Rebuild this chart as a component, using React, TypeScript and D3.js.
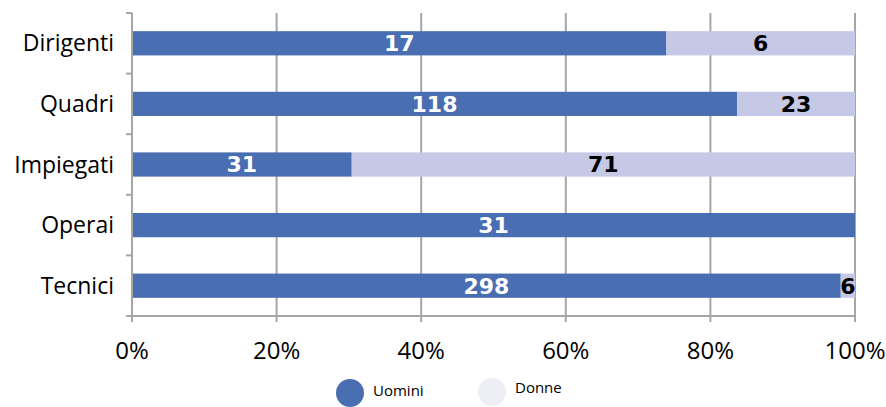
import { useEffect, useRef } from "react";
import * as d3 from "d3";

const categories = ["Dirigenti", "Quadri", "Impiegati", "Operai", "Tecnici"];
const uomini = [17, 118, 31, 31, 298];
const donne = [6, 23, 71, 0, 6];
const seriesNames = ["Uomini", "Donne"];
const tickValues = [0, 0.2, 0.4, 0.6, 0.8, 1];

const colUomini = "#4a6eb2";
const colDonne = "#c5c9e6";
const gridColor = "#a6a6a6";
const font = "'Open Sans', 'DejaVu Sans', sans-serif";

function renderChart(element: SVGSVGElement) {
  const margin = { top: 13, right: 31, bottom: 91, left: 132 },
    width = 886 - margin.left - margin.right,
    height = 407 - margin.top - margin.bottom;

  const svg = d3.select(element);
  svg.selectAll("*").remove();
  const g = svg.append("g").attr("transform", `translate(${margin.left},${margin.top})`);

  const rows = categories.map((c, i) => {
    const total = uomini[i] + donne[i];
    return { cat: c, u: uomini[i], d: donne[i], pu: uomini[i] / total, pd: donne[i] / total };
  });

  const x = d3.scaleLinear().domain([0, 1]).range([0, width]);
  const y = d3.scaleBand().domain(categories).range([0, height]).paddingInner(0.6).paddingOuter(0.3);
  const yb = d3.scaleBand().domain(categories).range([0, height]);

  // vertical gridlines
  g.selectAll("line.grid")
    .data(tickValues)
    .join("line")
    .attr("x1", (d) => x(d))
    .attr("x2", (d) => x(d))
    .attr("y1", 0)
    .attr("y2", height + 6)
    .attr("stroke", gridColor)
    .attr("stroke-width", 2);

  // bottom axis line
  g.append("line")
    .attr("x1", 0).attr("x2", width)
    .attr("y1", height).attr("y2", height)
    .attr("stroke", gridColor).attr("stroke-width", 2);

  // left axis ticks at band boundaries
  const bounds = categories.map((c) => yb(c) as number).concat([height]);
  g.selectAll("line.ytick")
    .data(bounds)
    .join("line")
    .attr("x1", -6).attr("x2", 0)
    .attr("y1", (d) => d).attr("y2", (d) => d)
    .attr("stroke", gridColor).attr("stroke-width", 2);

  // bars
  g.selectAll("rect.u")
    .data(rows)
    .join("rect")
    .attr("x", 0)
    .attr("y", (d) => y(d.cat) as number)
    .attr("width", (d) => x(d.pu))
    .attr("height", y.bandwidth())
    .attr("fill", colUomini);

  g.selectAll("rect.d")
    .data(rows.filter((r) => r.d > 0))
    .join("rect")
    .attr("x", (d) => x(d.pu))
    .attr("y", (d) => y(d.cat) as number)
    .attr("width", (d) => x(d.pd))
    .attr("height", y.bandwidth())
    .attr("fill", colDonne);

  // value labels
  const valueFont = `bold 22px 'DejaVu Sans', sans-serif`;
  g.selectAll("text.lu")
    .data(rows)
    .join("text")
    .attr("x", (d) => x(d.pu / 2))
    .attr("y", (d) => (y(d.cat) as number) + y.bandwidth() / 2)
    .attr("dy", "0.36em")
    .attr("text-anchor", "middle")
    .attr("fill", "#fff")
    .style("font", valueFont)
    .text((d) => d.u);

  g.selectAll("text.ld")
    .data(rows.filter((r) => r.d > 0))
    .join("text")
    .attr("x", (d) => x(d.pu + d.pd / 2))
    .attr("y", (d) => (y(d.cat) as number) + y.bandwidth() / 2)
    .attr("dy", "0.36em")
    .attr("text-anchor", "middle")
    .attr("fill", "#000")
    .style("font", valueFont)
    .text((d) => d.d);

  // left axis line
  g.append("line")
    .attr("x1", 0).attr("x2", 0)
    .attr("y1", 0).attr("y2", height)
    .attr("stroke", gridColor).attr("stroke-width", 2);

  // category labels
  g.selectAll("text.cat")
    .data(categories)
    .join("text")
    .attr("x", -18)
    .attr("y", (d) => (y(d) as number) + y.bandwidth() / 2)
    .attr("dy", "0.35em")
    .attr("text-anchor", "end")
    .attr("fill", "#000")
    .style("font", `23px ${font}`)
    .text((d) => d);

  // percent ticks
  g.selectAll("text.xt")
    .data(tickValues)
    .join("text")
    .attr("x", (d) => x(d))
    .attr("y", height + 35)
    .attr("dy", "0.35em")
    .attr("text-anchor", "middle")
    .attr("fill", "#000")
    .style("font", `24px ${font}`)
    .text((d) => d3.format(".0%")(d));

  // legend
  const legend = [
    { name: seriesNames[0], color: colUomini, cx: 350, cy: 393, ty: 391 },
    { name: seriesNames[1], color: "#eeeff6", cx: 492, cy: 392, ty: 388 },
  ];
  const lg = svg.append("g");
  lg.selectAll("circle")
    .data(legend)
    .join("circle")
    .attr("cx", (d) => d.cx)
    .attr("cy", (d) => d.cy)
    .attr("r", 14)
    .attr("fill", (d) => d.color);
  lg.selectAll("text")
    .data(legend)
    .join("text")
    .attr("x", (d) => d.cx + 23)
    .attr("y", (d) => d.ty)
    .attr("dy", "0.35em")
    .attr("fill", "#000")
    .style("font", `15px ${font}`)
    .text((d) => d.name);
}

export default function App() {
  const ref = useRef<SVGSVGElement>(null);
  useEffect(() => {
    if (ref.current) renderChart(ref.current);
  }, []);
  return (
    <svg
      ref={ref}
      width={886}
      height={407}
      style={{ position: "absolute", left: 0, top: 0, background: "#fff" }}
    />
  );
}
